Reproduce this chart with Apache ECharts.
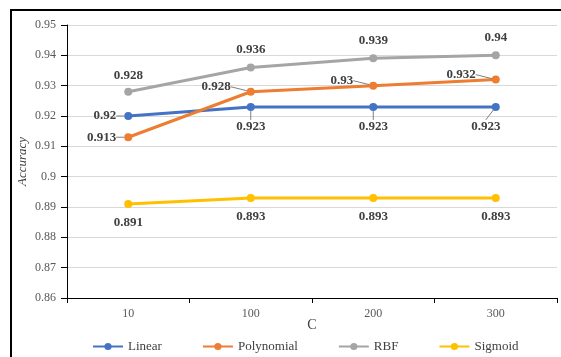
<!DOCTYPE html>
<html>
<head>
<meta charset="utf-8">
<script src="https://cdn.jsdelivr.net/npm/echarts@6/dist/echarts.min.js"></script>
<style>
  html, body { margin: 0; padding: 0; background: #fff; }
  #chart { width: 561px; height: 357px; }
</style>
</head>
<body>
<div id="chart"></div>
<script>
// Accuracy of SVM kernels across the regularisation parameter C
const categories = ['10', '100', '200', '300'];
const linear = [0.92, 0.923, 0.923, 0.923];
const polynomial = [0.913, 0.928, 0.93, 0.932];
const rbf = [0.928, 0.936, 0.939, 0.94];
const sigmoid = [0.891, 0.893, 0.893, 0.893];

const FONT = '"Liberation Serif", "Times New Roman", serif';
const labelBase = {
  show: true,
  fontFamily: FONT,
  fontSize: 13,
  fontWeight: 'bold',
  color: '#404040'
};

function withLabels(values, positions, distances) {
  return values.map((v, i) => ({
    value: v,
    label: { position: positions[i], distance: distances[i] }
  }));
}

const chart = echarts.init(document.getElementById('chart'), null, { renderer: 'canvas' });

chart.setOption({
  animation: false,
  backgroundColor: '#fff',
  textStyle: { fontFamily: FONT },
  graphic: [{
    type: 'rect',
    shape: { x: 11, y: 10, width: 700, height: 500 },
    style: { fill: 'none', stroke: '#000', lineWidth: 2 },
    silent: true,
    z: 100
  }],
  grid: { left: 67, right: 4, top: 25, bottom: 59 },
  legend: {
    bottom: -1,
    left: 87,
    itemGap: 40,
    itemWidth: 30,
    itemHeight: 9,
    textStyle: { fontFamily: FONT, fontSize: 13, color: '#404040' },
    data: ['Linear', 'Polynomial', 'RBF', 'Sigmoid']
  },
  xAxis: {
    type: 'category',
    data: categories,
    boundaryGap: true,
    name: 'C',
    nameLocation: 'middle',
    nameGap: 20,
    nameMoveOverlap: false,
    nameTextStyle: { fontFamily: FONT, fontSize: 14, color: '#404040' },
    axisLine: { lineStyle: { color: '#000', width: 1 } },
    axisTick: { show: true, length: 5, lineStyle: { color: '#000' } },
    axisLabel: { fontFamily: FONT, fontSize: 12, color: '#595959', margin: 10 },
    splitLine: { show: false }
  },
  yAxis: {
    type: 'value',
    min: 0.86,
    max: 0.95,
    interval: 0.01,
    name: 'Accuracy',
    nameLocation: 'middle',
    nameGap: 38,
    nameMoveOverlap: false,
    nameTextStyle: { fontFamily: FONT, fontSize: 13, fontStyle: 'italic', color: '#404040' },
    axisLine: { show: true, lineStyle: { color: '#000', width: 1 } },
    axisTick: { show: true, length: 6, inside: false, lineStyle: { color: '#000' } },
    axisLabel: {
      fontFamily: FONT, fontSize: 12, color: '#595959', margin: 11,
      formatter: v => String(+v.toFixed(2))
    },
    splitLine: { lineStyle: { color: '#D9D9D9', width: 1 } }
  },
  series: [
    {
      name: 'Linear', type: 'line',
      data: withLabels(linear, ['left', 'bottom', 'bottom', 'bottom'], [8, 9, 9, 9]),
      color: '#4472C4',
      symbol: 'circle', symbolSize: 8,
      lineStyle: { width: 3 },
      label: labelBase,
      labelLine: { show: true, lineStyle: { color: '#808080', width: 1 } },
      labelLayout: p => p.dataIndex === 3 ? { dx: -10, dy: 0 } : {}
    },
    {
      name: 'Polynomial', type: 'line',
      data: withLabels(polynomial, ['left', 'left', 'left', 'left'], [8, 8, 8, 8]),
      color: '#ED7D31',
      symbol: 'circle', symbolSize: 8,
      lineStyle: { width: 3 },
      label: labelBase,
      labelLine: { show: true, lineStyle: { color: '#808080', width: 1 } },
      labelLayout: p => p.dataIndex > 0 ? { dx: -8, dy: -5 } : {}
    },
    {
      name: 'RBF', type: 'line',
      data: withLabels(rbf, ['top', 'top', 'top', 'top'], [6, 7, 7, 7]),
      color: '#A5A5A5',
      symbol: 'circle', symbolSize: 8,
      lineStyle: { width: 3 },
      label: labelBase
    },
    {
      name: 'Sigmoid', type: 'line',
      data: withLabels(sigmoid, ['bottom', 'bottom', 'bottom', 'bottom'], [8, 8, 8, 8]),
      color: '#FFC000',
      symbol: 'circle', symbolSize: 8,
      lineStyle: { width: 3 },
      label: labelBase
    }
  ]
});
</script>
</body>
</html>
